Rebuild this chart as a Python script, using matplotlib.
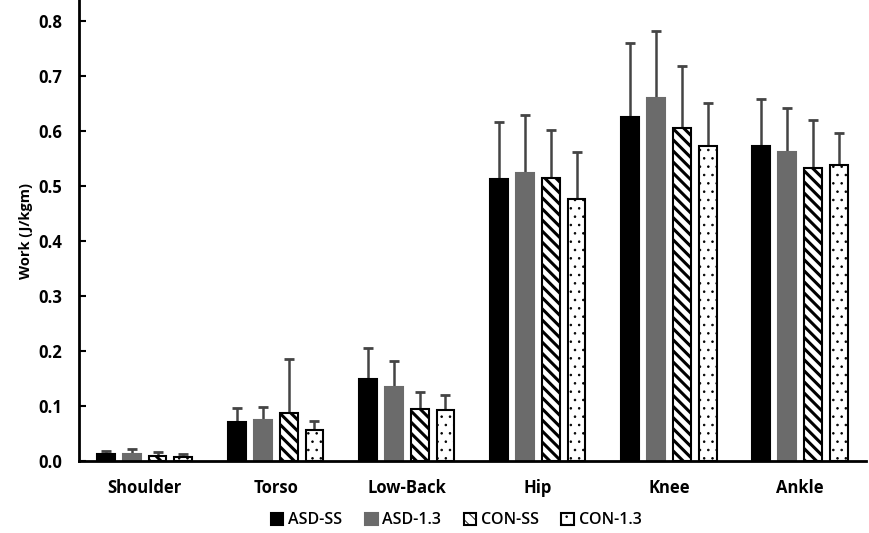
import numpy as np
import matplotlib
matplotlib.use("Agg")
import matplotlib.pyplot as plt

# Dades llegides del gràfic
joints = ["Shoulder", "Torso", "Low-Back", "Hip", "Knee", "Ankle"]
groups = ["ASD-SS", "ASD-1.3", "CON-SS", "CON-1.3"]
asd_ss = [0.012, 0.071, 0.149, 0.513, 0.626, 0.572]
asd_13 = [0.012, 0.074, 0.134, 0.523, 0.659, 0.561]
con_ss = [0.010, 0.088, 0.095, 0.515, 0.605, 0.533]
con_13 = [0.007, 0.057, 0.092, 0.476, 0.573, 0.539]
asd_ss_sd = [0.007, 0.026, 0.057, 0.104, 0.133, 0.086]
asd_13_sd = [0.010, 0.025, 0.047, 0.106, 0.122, 0.081]
con_ss_sd = [0.006, 0.097, 0.031, 0.087, 0.113, 0.087]
con_13_sd = [0.005, 0.016, 0.028, 0.085, 0.077, 0.058]

means = [asd_ss, asd_13, con_ss, con_13]
sds = [asd_ss_sd, asd_13_sd, con_ss_sd, con_13_sd]
colors = ["black", "#6b6b6b", "white", "white"]
hatches = [None, None, "\\\\\\", ".."]
hatch_lw = [1.0, 1.0, 2.2, 0.6]
edges = ["black", "#6b6b6b", "black", "black"]

plt.rcParams["font.family"] = ["Open Sans", "DejaVu Sans"]

fig = plt.figure(figsize=(8.69, 5.33), dpi=100)
ax = fig.add_axes([0.091, 0.135, 0.905, 0.865])

x = np.arange(len(joints))
pitch = 0.197
width = 0.136
for i in range(4):
    pos = x + (i - 1.5) * pitch
    plt.rcParams["hatch.linewidth"] = hatch_lw[i]
    bars = ax.bar(pos, means[i], width, color=colors[i], edgecolor=edges[i],
                  hatch=hatches[i], linewidth=1.5, label=groups[i], zorder=2)
    for b in bars:
        try:
            b.set_hatch_linewidth(hatch_lw[i])
        except AttributeError:
            pass
    ax.errorbar(pos, means[i], yerr=[np.zeros(len(joints)), sds[i]],
                fmt="none", ecolor="#444444", elinewidth=1.8, capsize=3.5,
                capthick=2, zorder=1)

ax.set_xlim(-0.5, 5.5)
ax.set_ylim(0, 0.838)
ax.set_yticks(np.arange(0, 0.81, 0.1))
ax.set_yticklabels([f"{v:.1f}" for v in np.arange(0, 0.81, 0.1)],
                   fontsize=12, fontweight="bold")
ax.set_xticks(x)
ax.set_xticklabels(joints, fontsize=12, fontweight="bold")
ax.tick_params(axis="x", length=0, pad=13)
ax.tick_params(axis="y", direction="in", length=5, width=1.5, pad=12)
ax.set_ylabel("Work (J/kgm)", fontsize=10.5, fontweight="bold", labelpad=4)
for s in ["top", "right"]:
    ax.spines[s].set_visible(False)
for s in ["left", "bottom"]:
    ax.spines[s].set_linewidth(2)

leg = fig.legend(loc="lower center", bbox_to_anchor=(0.525, -0.018), ncol=4,
                 frameon=False, handlelength=0.8, handleheight=0.8,
                 handletextpad=0.3, columnspacing=1.4,
                 prop={"weight": "semibold", "size": 11.5})

fig.savefig("out.png", dpi=100)
